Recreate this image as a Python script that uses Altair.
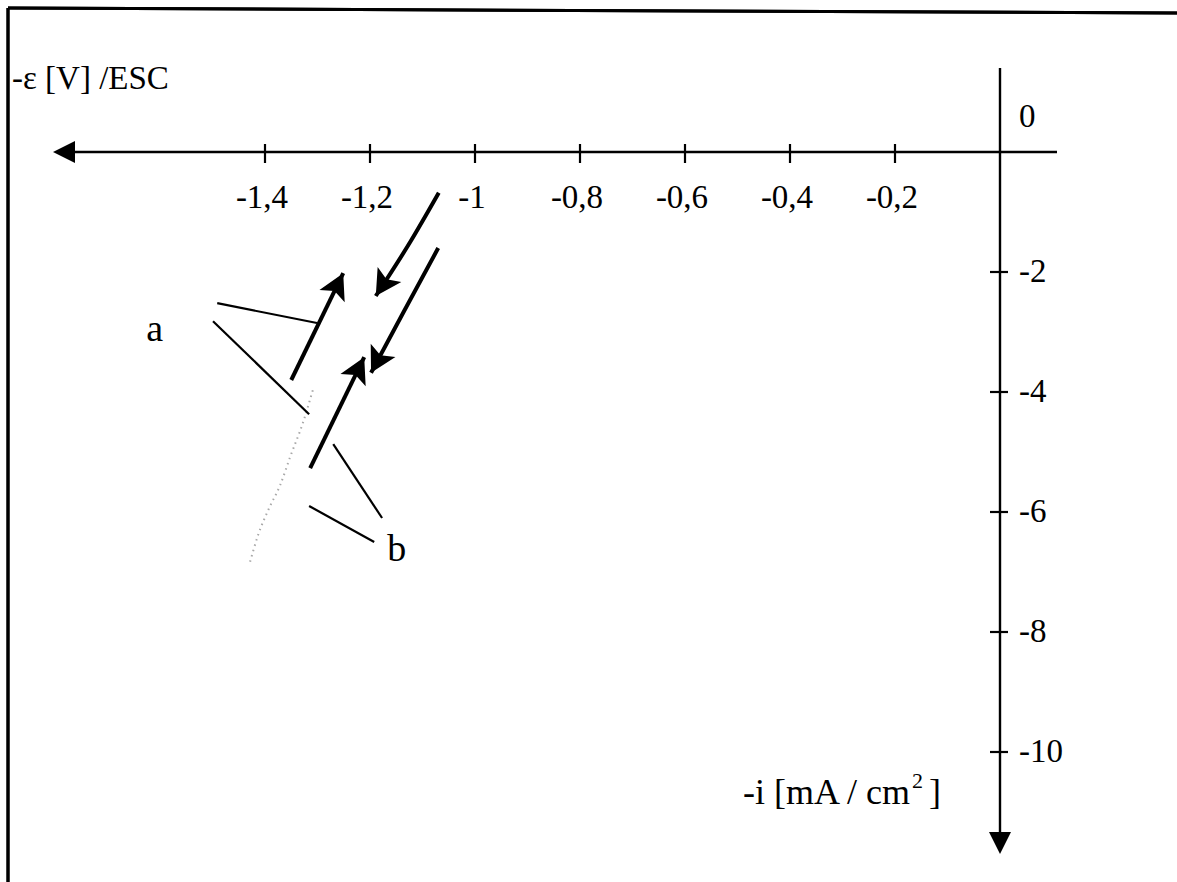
import math
import altair as alt
import pandas as pd

# ---- canvas / scale geometry (pixels) ----
W, H = 1177, 882
X0, KX = 1000, 525.0   # pixel of potential 0, pixels per volt
Y0, KY = 152, 60.0     # pixel of current 0, pixels per mA/cm2

# ---- axis ticks ----
e_ticks = [-1.4, -1.2, -1.0, -0.8, -0.6, -0.4, -0.2]
e_tick_labels = ["-1,4", "-1,2", "-1", "-0,8", "-0,6", "-0,4", "-0,2"]
i_ticks = [-2, -4, -6, -8, -10]
i_tick_labels = ["-2", "-4", "-6", "-8", "-10"]

# ---- sweep arrows: potential (V) and current density (mA/cm2) ----
fwd1_e = [-1.069, -1.122, -1.189]
fwd1_i = [-0.68, -1.48, -2.40]
fwd2_e = [-1.070, -1.135, -1.198]
fwd2_i = [-1.60, -2.65, -3.68]
back1_e = [-1.350, -1.251]
back1_i = [-3.80, -2.02]
back2_e = [-1.314, -1.211]
back2_i = [-5.27, -3.42]

# faint recorded trace
trace_e = [-1.309, -1.328, -1.352, -1.371, -1.394, -1.413, -1.429]
trace_i = [-3.97, -4.52, -5.08, -5.55, -5.97, -6.38, -6.85]

# leader lines for the curve labels
lead_e1 = [-1.491, -1.499, -1.270, -1.316]
lead_i1 = [-2.52, -2.82, -4.87, -5.90]
lead_e2 = [-1.301, -1.316, -1.177, -1.192]
lead_i2 = [-2.85, -4.37, -6.10, -6.50]
curve_labels = ["a", "b"]
curve_label_e = [-1.610, -1.149]
curve_label_i = [-2.97, -6.63]

FONT = "Liberation Serif"
FS = 33

xs = alt.Scale(domain=[-X0 / KX, (W - X0) / KX], nice=False, zero=False)
ys = alt.Scale(domain=[-(H - Y0) / KY, Y0 / KY], nice=False, zero=False)


def X(field="e"):
    return alt.X(f"{field}:Q", scale=xs, axis=None)


def Y(field="i"):
    return alt.Y(f"{field}:Q", scale=ys, axis=None)


def px_e(dx):
    return dx / KX


def px_i(dy):
    return dy / KY


# ---- arrow shafts ----
rows = []
for name, es, iv in [("f1", fwd1_e, fwd1_i), ("f2", fwd2_e, fwd2_i),
                     ("b1", back1_e, back1_i), ("b2", back2_e, back2_i)]:
    for k, (e, i) in enumerate(zip(es, iv)):
        rows.append({"arrow": name, "seq": k, "e": e, "i": i})
shaft_df = pd.DataFrame(rows)

shafts = alt.Chart(shaft_df).mark_line(
    color="black", strokeWidth=4, interpolate="monotone"
).encode(x=X(), y=Y(), detail="arrow:N", order="seq:Q")

# arrowheads at the end of each sweep, rotated along the last segment
heads = []
for es, iv in [(fwd1_e, fwd1_i), (fwd2_e, fwd2_i), (back1_e, back1_i), (back2_e, back2_i)]:
    dx = (es[-1] - es[-2]) * KX
    dy = -(iv[-1] - iv[-2]) * KY
    ang = math.degrees(math.atan2(dx, -dy)) % 360
    heads.append({"e": es[-1], "i": iv[-1], "angle": ang})
head_df = pd.DataFrame(heads)

BARB = "M0,0 L0.55,1 L0,0.78 L-0.55,1 Z"
head_marks = alt.Chart(head_df).mark_point(
    shape=BARB, filled=True, size=2600, color="black", opacity=1, strokeWidth=0
).encode(x=X(), y=Y(), angle=alt.Angle("angle:Q", scale=None))

# ---- faint dotted trace ----
trace_df = pd.DataFrame({"e": trace_e, "i": trace_i, "seq": range(len(trace_e))})
trace = alt.Chart(trace_df).mark_line(
    color="#a8a8a8", strokeWidth=2, strokeDash=[1.5, 4], interpolate="monotone"
).encode(x=X(), y=Y(), order="seq:Q")

# ---- leader lines ----
lead_df = pd.DataFrame({"e": lead_e1, "i": lead_i1, "e2": lead_e2, "i2": lead_i2})
leaders = alt.Chart(lead_df).mark_rule(color="black", strokeWidth=2.2).encode(
    x=X(), y=Y(), x2="e2:Q", y2="i2:Q"
)

lab_df = pd.DataFrame({"e": curve_label_e, "i": curve_label_i, "t": curve_labels})
curve_text = alt.Chart(lab_df).mark_text(
    font=FONT, fontSize=38, color="black", align="center", baseline="middle"
).encode(x=X(), y=Y(), text="t:N")

# ---- axes ----
e_min, e_max = px_e(75 - X0), px_e(1057 - X0)
i_max, i_min = px_i(Y0 - 68), px_i(Y0 - 835)
axis_df = pd.DataFrame({
    "e": [e_min, 0.0], "i": [0.0, i_max],
    "e2": [e_max, 0.0], "i2": [0.0, i_min],
})
axes = alt.Chart(axis_df).mark_rule(color="black", strokeWidth=2.4).encode(
    x=X(), y=Y(), x2="e2:Q", y2="i2:Q"
)

TRI = "M0,0 L0.5,1 L-0.5,1 Z"
axis_heads_df = pd.DataFrame({
    "e": [px_e(53 - X0), 0.0],
    "i": [0.0, px_i(Y0 - 854)],
    "angle": [270, 180],
})
axis_heads = alt.Chart(axis_heads_df).mark_point(
    shape=TRI, filled=True, size=1936, color="black", opacity=1, strokeWidth=0
).encode(x=X(), y=Y(), angle=alt.Angle("angle:Q", scale=None))

# tick marks crossing the axes
etick_df = pd.DataFrame({"e": e_ticks, "i": [px_i(8)] * len(e_ticks),
                         "i2": [px_i(-11)] * len(e_ticks)})
e_tick_marks = alt.Chart(etick_df).mark_rule(color="black", strokeWidth=2.2).encode(
    x=X(), y=Y(), y2="i2:Q"
)
itick_df = pd.DataFrame({"i": i_ticks, "e": [px_e(-10)] * len(i_ticks),
                         "e2": [px_e(8)] * len(i_ticks)})
i_tick_marks = alt.Chart(itick_df).mark_rule(color="black", strokeWidth=2.2).encode(
    x=X(), x2="e2:Q", y=Y()
)

elab_df = pd.DataFrame({"e": e_ticks, "i": [0.0] * len(e_ticks), "t": e_tick_labels})
e_labels = alt.Chart(elab_df).mark_text(
    font=FONT, fontSize=FS, color="black", align="center", baseline="middle", dx=-3, dy=46
).encode(x=X(), y=Y(), text="t:N")

ilab_df = pd.DataFrame({"i": i_ticks, "e": [0.0] * len(i_ticks), "t": i_tick_labels})
i_labels = alt.Chart(ilab_df).mark_text(
    font=FONT, fontSize=FS, color="black", align="left", baseline="middle", dx=19
).encode(x=X(), y=Y(), text="t:N")

zero_df = pd.DataFrame({"e": [0.0], "i": [0.0], "t": ["0"]})
zero_label = alt.Chart(zero_df).mark_text(
    font=FONT, fontSize=FS, color="black", align="left", baseline="middle", dx=19, dy=-35
).encode(x=X(), y=Y(), text="t:N")

# axis titles
title_df = pd.DataFrame({"t": ["-ε [V] /ESC"]})
e_title = alt.Chart(title_df).mark_text(
    font=FONT, fontSize=FS, color="black", align="left", baseline="middle"
).encode(x=alt.value(12), y=alt.value(79), text="t:N")

ititle_df = pd.DataFrame({"t": ["-i [mA / cm"], "sup": ["2"], "end": ["]"]})
i_title = alt.Chart(ititle_df).mark_text(
    font=FONT, fontSize=36, color="black", align="left", baseline="middle"
).encode(x=alt.value(743), y=alt.value(793), text="t:N")
i_title_sup = alt.Chart(ititle_df).mark_text(
    font=FONT, fontSize=22, color="black", align="left", baseline="middle"
).encode(x=alt.value(912), y=alt.value(781), text="sup:N")
i_title_end = alt.Chart(ititle_df).mark_text(
    font=FONT, fontSize=36, color="black", align="left", baseline="middle"
).encode(x=alt.value(929), y=alt.value(793), text="end:N")

# frame around the figure
frame_df = pd.DataFrame({"k": [0, 1]})
frame_left = alt.Chart(frame_df).mark_rule(color="black", strokeWidth=3).encode(
    x=alt.value(8), y=alt.value(8), y2=alt.value(H)
)
frame_top = alt.Chart(frame_df).mark_rule(color="black", strokeWidth=3).encode(
    x=alt.value(8), x2=alt.value(W), y=alt.value(8), y2=alt.value(13)
)

chart = alt.layer(
    frame_left, frame_top,
    axes, axis_heads, e_tick_marks, i_tick_marks,
    e_labels, i_labels, zero_label, e_title, i_title, i_title_sup, i_title_end,
    trace, leaders, shafts, head_marks, curve_text,
).properties(
    width=W, height=H, padding=0, background="white",
    autosize=alt.AutoSizeParams(type="none"),
).configure_view(stroke=None)

chart.save("out.html", embed_options={"renderer": "svg", "actions": False})
